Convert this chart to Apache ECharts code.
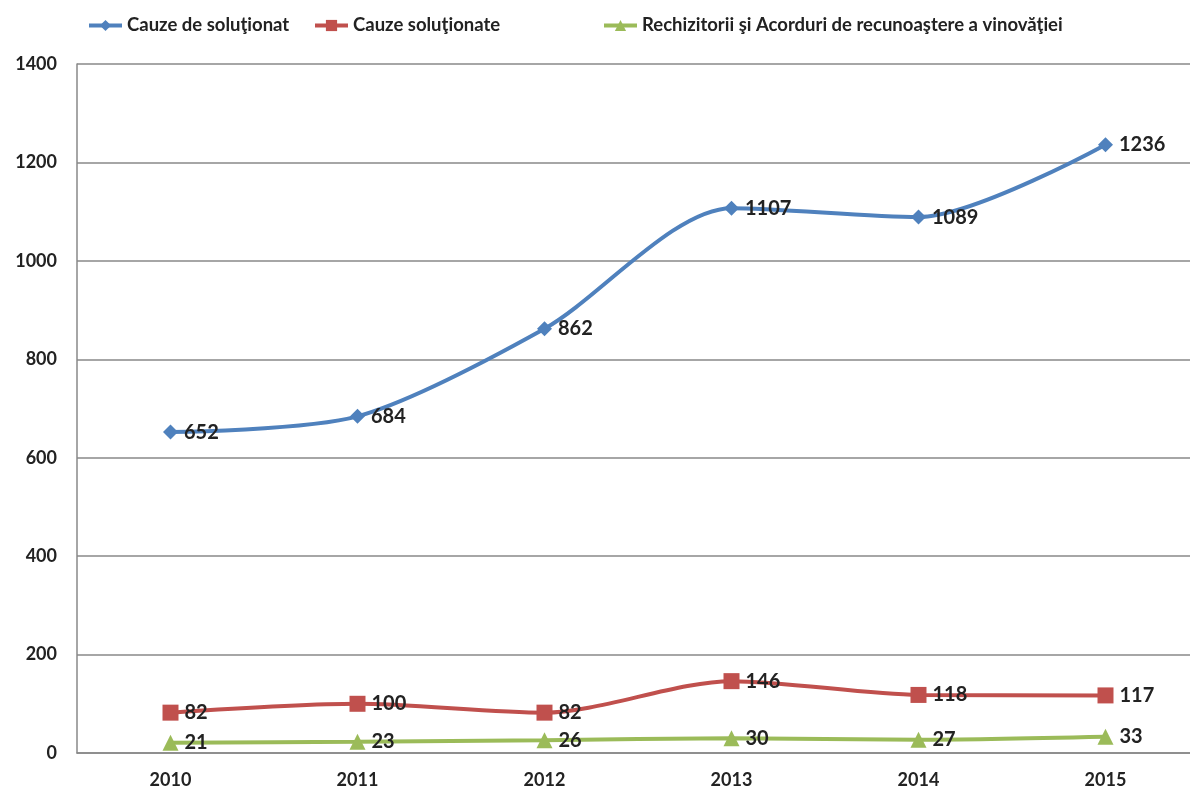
<!DOCTYPE html>
<html><head><meta charset="utf-8">
<script src="https://cdn.jsdelivr.net/npm/echarts@6/dist/echarts.min.js"></script>
<style>html,body{margin:0;padding:0;background:#fff;overflow:hidden}#c{width:1199px;height:791px}</style>
</head><body><div id="c"></div>
<script>
const years = ['2010','2011','2012','2013','2014','2015'];
const cauzeDeSolutionat = [652, 684, 862, 1107, 1089, 1236];
const cauzeSolutionate = [82, 100, 82, 146, 118, 117];
const rechizitorii = [21, 23, 26, 30, 27, 33];
const seriesNames = ['Cauze de soluţionat', 'Cauze soluţionate', 'Rechizitorii şi Acorduri de recunoaştere a vinovăţiei'];
const yTicks = [0, 200, 400, 600, 800, 1000, 1200, 1400];

const font = 'Lato, "Open Sans", sans-serif';
const chart = echarts.init(document.getElementById('c'));
function mk(name, data, color, symbol, size) {
  return {
    name, type: 'line', data, smooth: 0.28, symbol, symbolSize: size,
    lineStyle: { color, width: 4 }, itemStyle: { color },
    label: { show: true, position: 'right', distance: 6, color: '#222', fontWeight: 'bold', fontSize: 20, fontFamily: font },
    animation: false
  };
}
const legendLefts = [82, 308, 597];
chart.setOption({
  animation: false,
  legend: seriesNames.map((n, i) => ({
    top: 11, left: legendLefts[i], itemWidth: 33, itemHeight: 14,
    lineStyle: { width: 4 },
    textStyle: { color: '#222', fontWeight: 'bold', fontSize: 18.5, fontFamily: font },
    data: [n]
  })),
  grid: { left: 77, top: 64, bottom: 38, right: 0, containLabel: false },
  xAxis: {
    type: 'category', data: years, boundaryGap: true,
    axisLine: { lineStyle: { color: '#888', width: 1.5 } },
    axisTick: { show: false },
    axisLabel: { color: '#222', fontWeight: 'bold', fontSize: 18, fontFamily: font, margin: 18 }
  },
  yAxis: {
    type: 'value', min: yTicks[0], max: yTicks[yTicks.length - 1], interval: 200,
    axisLine: { show: true, lineStyle: { color: '#888', width: 1.5 } },
    axisTick: { show: false },
    splitLine: { lineStyle: { color: '#888', width: 1.5 } },
    axisLabel: { color: '#222', fontWeight: 'bold', fontSize: 18, fontFamily: font, margin: 20, formatter: v => String(v) }
  },
  series: [
    mk(seriesNames[0], cauzeDeSolutionat, '#4F81BD', 'diamond', 15),
    mk(seriesNames[1], cauzeSolutionate, '#C0504D', 'rect', 16),
    mk(seriesNames[2], rechizitorii, '#9BBB59', 'triangle', 16)
  ]
});
</script></body></html>
